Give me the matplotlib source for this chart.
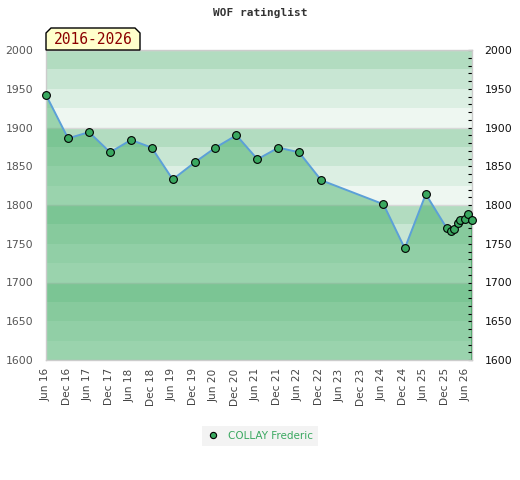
import numpy as np
import matplotlib
matplotlib.use("Agg")
import matplotlib.pyplot as plt
from matplotlib.patches import Polygon
from matplotlib.ticker import MultipleLocator

# months since Jun 2016
months = [0, 6.3, 12.3, 18.3, 24.3, 30.2, 36.2, 42.5, 48.4, 54.4, 60.4, 66.4, 72.3, 78.6,
          96.4, 102.5, 108.5, 114.5, 115.6, 116.7, 117.6, 118.4, 119.7, 120.7, 121.7]
ratings = [1942, 1886, 1894, 1868, 1884, 1874, 1833, 1855, 1874, 1890, 1859, 1874, 1868, 1832,
           1801, 1744, 1814, 1770, 1766, 1769, 1777, 1781, 1782, 1789, 1781]
tick_labels = ["Jun 16", "Dec 16", "Jun 17", "Dec 17", "Jun 18", "Dec 18", "Jun 19", "Dec 19",
               "Jun 20", "Dec 20", "Jun 21", "Dec 21", "Jun 22", "Dec 22", "Jun 23", "Dec 23",
               "Jun 24", "Dec 24", "Jun 25", "Dec 25", "Jun 26"]
player = "COLLAY Frederic"
period = "2016-2026"

W, H = 520, 480
fig = plt.figure(figsize=(W / 100, H / 100), dpi=100)
ax = fig.add_axes([46 / W, 1 - 360 / H, 426 / W, 310 / H])

ymin, ymax = 1600, 2000
band_cols = ["#eef7f1", "#dcefe3", "#c8e6d3", "#b2dcc0"]
for i, lo in enumerate(range(ymin, ymax, 25)):
    ax.axhspan(lo, lo + 25, color=band_cols[i % 4], lw=0, zorder=0)
for g in range(ymin, ymax + 1, 100):
    ax.axhline(g, color="#d8d8d8", lw=1, zorder=0.5)

ax.fill_between(months, ratings, ymin, facecolor="#40ac64", alpha=0.48,
                edgecolor="none", zorder=1)
ax.vlines([months[0], months[-1]], ymin, [ratings[0], ratings[-1]],
          color="#2f9a4f", lw=1.2, zorder=1.5)
ax.plot(months, ratings, color="#5ca0d8", lw=1.4, zorder=2)
ax.plot(months, ratings, "o", ms=5.6, mfc="#3aa860", mec="black", mew=0.8,
        zorder=3, clip_on=False, label=player)

ax.set_xlim(months[0], months[-1])
ax.set_ylim(ymin, ymax)
ax.set_xticks(np.arange(0, 121, 6))
ax.set_xticklabels(tick_labels, rotation=90, fontsize=7.6, color="#444444")
ax.tick_params(axis="x", length=0, pad=6)

ax.yaxis.set_major_locator(MultipleLocator(50))
ax.yaxis.set_minor_locator(MultipleLocator(10))
ax.tick_params(axis="y", which="both", left=False, right=True, labelleft=True,
               labelright=True, direction="in", length=3, width=0.8, color="black",
               labelsize=7.8)
ax.tick_params(axis="y", which="major", pad=9)
for t in ax.yaxis.get_major_ticks():
    t.label1.set_color("#555555")
    t.label2.set_color("#111111")

for s in ax.spines.values():
    s.set_color("#cccccc")
    s.set_linewidth(1)

fig.text(260 / W, 1 - 13 / H, "WOF ratinglist", ha="center", va="center",
         family="DejaVu Sans Mono", fontweight="bold", fontsize=8, color="#333333")

# period tag above the plot
x0, x1, yb, yt, c = 46, 140, 50, 28, 5
pts = [(x0, yb), (x0, yt + c), (x0 + c, yt), (x1 - c, yt), (x1, yt + c), (x1, yb)]
tag = Polygon([(px / W, 1 - py / H) for px, py in pts], closed=True,
              transform=fig.transFigure, facecolor="#ffffcc", edgecolor="black", lw=1)
fig.patches.append(tag)
fig.text((x0 + x1) / 2 / W, 1 - 40 / H, period, ha="center", va="center",
         family="DejaVu Sans Mono", fontsize=10.5, color="#8b0000")

leg = fig.legend(loc="center", bbox_to_anchor=(260 / W, 1 - 436 / H), fontsize=7.5,
                 frameon=True, fancybox=False, handletextpad=0.8, borderpad=0.5,
                 handlelength=1.2, markerscale=0.8)
leg.get_frame().set_facecolor("#f0f0f0")
leg.get_frame().set_edgecolor("none")
for txt in leg.get_texts():
    txt.set_color("#3aa860")

fig.savefig("out.png", dpi=100)
